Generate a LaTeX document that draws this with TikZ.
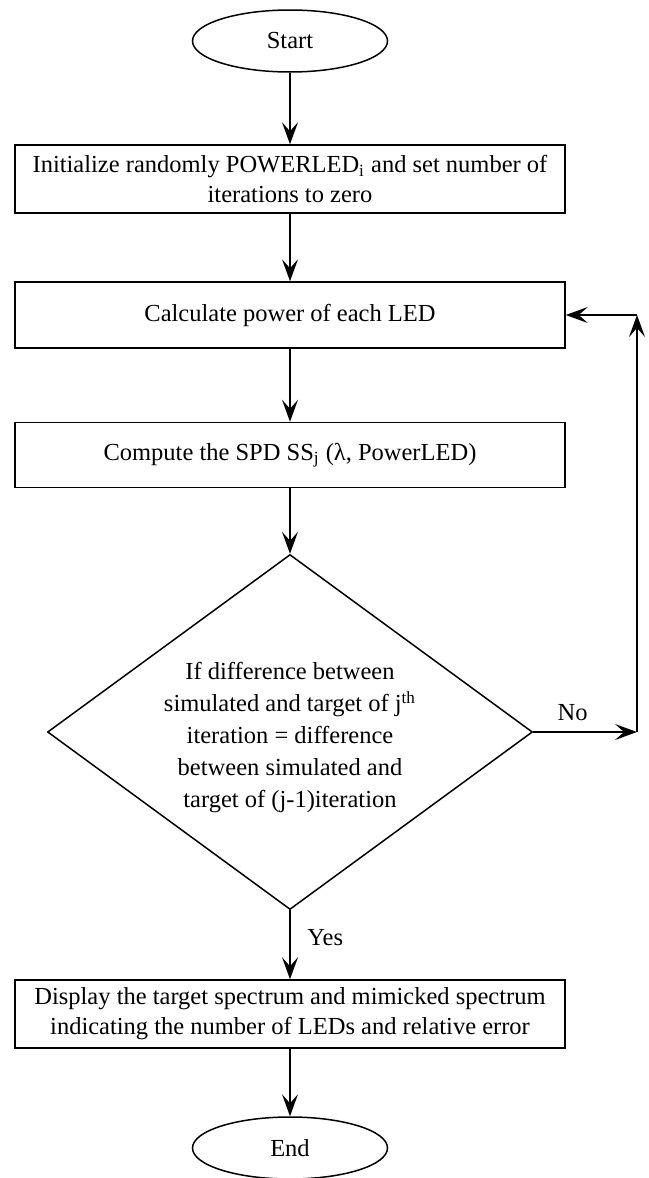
\documentclass[tikz,border=0pt]{standalone}
\usepackage{fontspec}
\setmainfont{Liberation Serif}
\usetikzlibrary{shapes.geometric,arrows.meta}
\begin{document}
\begin{tikzpicture}[x=0.5pt,y=-0.5pt,
  font=\fontsize{12.25}{15}\selectfont,
  >={Stealth[length=11pt,width=8pt,inset=4.5pt]},
  line width=0.75pt,
  terminal/.style={draw,ellipse,minimum width=97.5pt,minimum height=31pt,inner sep=0pt},
  process/.style={draw,rectangle,minimum width=275pt,align=center,inner sep=0pt},
  decision/.style={draw,diamond,minimum width=242.5pt,minimum height=177.5pt,aspect=1.366,
    inner sep=0pt,align=center,font=\fontsize{12.25}{16}\selectfont}]
\useasboundingbox (0,0) rectangle (648,1178);

% Terminals and steps
\node[terminal] (start) at (290,41) {Start};
\node[process,minimum height=34pt] (init) at (290,179)
  {Initialize randomly POWERLED\textsubscript{i} and set number of\\iterations to zero};
\node[process,minimum height=33pt] (calc) at (290,315) {Calculate power of each LED};
\node[process,minimum height=32.5pt] (comp) at (290,455) {Compute the SPD SS\textsubscript{j} (λ, PowerLED)};
\node[decision] (cond) at (290,732)
  {\rule{0pt}{14.5pt}If difference between\\simulated and target of j\textsuperscript{th}\\iteration = difference\\between simulated and\\target of (j-1)iteration};
\node[process,minimum height=34pt] (disp) at (290,1014)
  {Display the target spectrum and mimicked spectrum\\indicating the number of LEDs and relative error};
\node[terminal] (end) at (290,1148) {End};

% Feedback corners
\coordinate (noend) at (637,732);
\coordinate (back) at (637,315);

% Main flow
\draw[->] (start) -- (init);
\draw[->] (init) -- (calc);
\draw[->] (calc) -- (comp);
\draw[->] (comp) -- (cond);
\draw[->] (cond) -- (disp) node[pos=0.4,right=5pt] {Yes};
\draw[->] (disp) -- (end);

% Loop back
\draw[->] (cond.east) -- (noend) node[pos=0.38,above=2pt] {No};
\draw[->] (noend) -- (back);
\draw[->] (back) -- (calc.east);
\end{tikzpicture}
\end{document}
